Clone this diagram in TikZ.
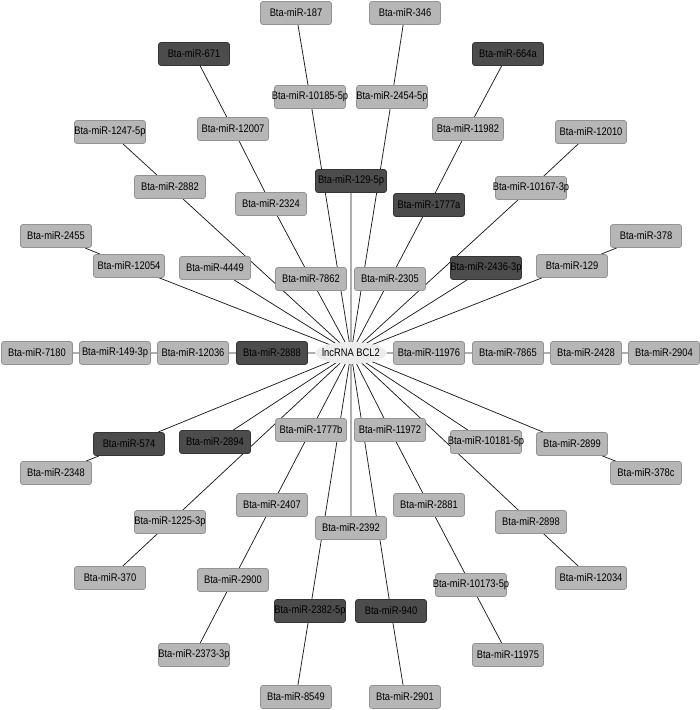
\documentclass[tikz,border=0pt]{standalone}
\usepackage{fontspec}
\usepackage{graphicx}
\setmainfont{Liberation Sans}
\usetikzlibrary{backgrounds,shapes.geometric}
\definecolor{lightfill}{HTML}{B6B6B6}
\definecolor{lightdraw}{HTML}{939393}
\definecolor{darkfill}{HTML}{4C4C4C}
\definecolor{darkdraw}{HTML}{343434}
\definecolor{centerfill}{HTML}{ECECEC}
\definecolor{edgecol}{HTML}{1E1E1E}
\newcommand\mirtxt[1]{\makebox[0pt][c]{\scalebox{0.85}[1]{#1}}}
\tikzset{
  mibox/.style={rectangle, rounded corners=2.5pt, minimum width=71pt, minimum height=23pt,
    inner sep=0pt, line width=0.8pt, font=\fontsize{11}{12}\selectfont, text=black},
  lt/.style={mibox, fill=lightfill, draw=lightdraw},
  dk/.style={mibox, fill=darkfill, draw=darkdraw, text=black},
  hub/.style={ellipse, fill=centerfill, draw=none, minimum width=71pt, minimum height=22pt,
    inner sep=0pt, font=\fontsize{11}{12}\selectfont},
  link/.style={draw=edgecol, line width=0.75pt}
}
\begin{document}
\begin{tikzpicture}[x=1pt,y=-1pt]
\useasboundingbox (0,0) rectangle (700,710);
% centre
\node[hub] (c) at (351,353) {\mirtxt{lncRNA BCL2}};
% upper half
\node[lt] (n187) at (296,13) {\mirtxt{Bta-miR-187}};
\node[lt] (n346) at (405,13) {\mirtxt{Bta-miR-346}};
\node[dk] (n671) at (194,54) {\mirtxt{Bta-miR-671}};
\node[dk] (n664a) at (508,54) {\mirtxt{Bta-miR-664a}};
\node[lt] (n10185) at (310,97) {\mirtxt{Bta-miR-10185-5p}};
\node[lt] (n2454) at (392,97) {\mirtxt{Bta-miR-2454-5p}};
\node[lt] (n12007) at (233,129) {\mirtxt{Bta-miR-12007}};
\node[lt] (n11982) at (468,129) {\mirtxt{Bta-miR-11982}};
\node[lt] (n1247) at (110,132) {\mirtxt{Bta-miR-1247-5p}};
\node[lt] (n12010) at (591,132) {\mirtxt{Bta-miR-12010}};
\node[lt] (n2882) at (170,187) {\mirtxt{Bta-miR-2882}};
\node[lt] (n10167) at (531,188) {\mirtxt{Bta-miR-10167-3p}};
\node[dk] (n1295p) at (351,181) {\mirtxt{Bta-miR-129-5p}};
\node[lt] (n2324) at (271,204) {\mirtxt{Bta-miR-2324}};
\node[dk] (n1777a) at (429,205) {\mirtxt{Bta-miR-1777a}};
\node[lt] (n2455) at (56,236) {\mirtxt{Bta-miR-2455}};
\node[lt] (n378) at (646,236) {\mirtxt{Bta-miR-378}};
\node[lt] (n12054) at (129,266) {\mirtxt{Bta-miR-12054}};
\node[lt] (n129) at (572,266) {\mirtxt{Bta-miR-129}};
\node[lt] (n4449) at (215,268) {\mirtxt{Bta-miR-4449}};
\node[dk] (n2436) at (486,268) {\mirtxt{Bta-miR-2436-3p}};
\node[lt] (n7862) at (311,279) {\mirtxt{Bta-miR-7862}};
\node[lt] (n2305) at (390,279) {\mirtxt{Bta-miR-2305}};
% middle row
\node[lt] (n7180) at (37,353) {\mirtxt{Bta-miR-7180}};
\node[lt] (n149) at (115,353) {\mirtxt{Bta-miR-149-3p}};
\node[lt] (n12036) at (193,353) {\mirtxt{Bta-miR-12036}};
\node[dk] (n2888) at (272,353) {\mirtxt{Bta-miR-2888}};
\node[lt] (n11976) at (429,353) {\mirtxt{Bta-miR-11976}};
\node[lt] (n7865) at (508,353) {\mirtxt{Bta-miR-7865}};
\node[lt] (n2428) at (586,353) {\mirtxt{Bta-miR-2428}};
\node[lt] (n2904) at (664,353) {\mirtxt{Bta-miR-2904}};
% lower half
\node[dk] (n574) at (129,444) {\mirtxt{Bta-miR-574}};
\node[dk] (n2894) at (215,442) {\mirtxt{Bta-miR-2894}};
\node[lt] (n1777b) at (311,430) {\mirtxt{Bta-miR-1777b}};
\node[lt] (n11972) at (390,430) {\mirtxt{Bta-miR-11972}};
\node[lt] (n10181) at (486,442) {\mirtxt{Bta-miR-10181-5p}};
\node[lt] (n2899) at (572,444) {\mirtxt{Bta-miR-2899}};
\node[lt] (n2348) at (56,473) {\mirtxt{Bta-miR-2348}};
\node[lt] (n378c) at (646,473) {\mirtxt{Bta-miR-378c}};
\node[lt] (n1225) at (170,522) {\mirtxt{Bta-miR-1225-3p}};
\node[lt] (n2407) at (272,505) {\mirtxt{Bta-miR-2407}};
\node[lt] (n2392) at (351,528) {\mirtxt{Bta-miR-2392}};
\node[lt] (n2881) at (429,505) {\mirtxt{Bta-miR-2881}};
\node[lt] (n2898) at (531,522) {\mirtxt{Bta-miR-2898}};
\node[lt] (n370) at (110,578) {\mirtxt{Bta-miR-370}};
\node[lt] (n2900) at (233,580) {\mirtxt{Bta-miR-2900}};
\node[lt] (n10173) at (471,585) {\mirtxt{Bta-miR-10173-5p}};
\node[lt] (n12034) at (591,578) {\mirtxt{Bta-miR-12034}};
\node[dk] (n2382) at (310,611) {\mirtxt{Bta-miR-2382-5p}};
\node[dk] (n940) at (391,611) {\mirtxt{Bta-miR-940}};
\node[lt] (n2373) at (194,655) {\mirtxt{Bta-miR-2373-3p}};
\node[lt] (n11975) at (508,655) {\mirtxt{Bta-miR-11975}};
\node[lt] (n8549) at (296,697) {\mirtxt{Bta-miR-8549}};
\node[lt] (n2901) at (405,697) {\mirtxt{Bta-miR-2901}};
\begin{pgfonlayer}{background}
\fill[white] (0,0) rectangle (700,710);
\path[link]
  (c.center) -- (n1295p)
  (c.center) -- (n10185) (n10185) -- (n187)
  (c.center) -- (n2454) (n2454) -- (n346)
  (c.center) -- (n7862) (n7862) -- (n2324) (n2324) -- (n12007) (n12007) -- (n671)
  (c.center) -- (n2305) (n2305) -- (n1777a) (n1777a) -- (n11982) (n11982) -- (n664a)
  (c.center) -- (n2882) (n2882) -- (n1247)
  (c.center) -- (n10167) (n10167) -- (n12010)
  (c.center) -- (n4449)
  (c.center) -- (n2436)
  (c.center) -- (n12054) (n12054) -- (n2455)
  (c.center) -- (n129) (n129) -- (n378)
  (c) -- (n2888) (n2888) -- (n12036) (n12036) -- (n149) (n149) -- (n7180)
  (c) -- (n11976) (n11976) -- (n7865) (n7865) -- (n2428) (n2428) -- (n2904)
  (c.center) -- (n574) (n574) -- (n2348)
  (c.center) -- (n2894)
  (c.center) -- (n1225) (n1225) -- (n370)
  (c.center) -- (n2899) (n2899) -- (n378c)
  (c.center) -- (n10181)
  (c.center) -- (n2898) (n2898) -- (n12034)
  (c.center) -- (n1777b) (n1777b) -- (n2407) (n2407) -- (n2900) (n2900) -- (n2373)
  (c.center) -- (n11972) (n11972) -- (n2881) (n2881) -- (n10173) (n10173) -- (n11975)
  (c.center) -- (n2392)
  (c.center) -- (n2382) (n2382) -- (n8549)
  (c.center) -- (n940) (n940) -- (n2901);
\end{pgfonlayer}
\end{tikzpicture}
\end{document}
